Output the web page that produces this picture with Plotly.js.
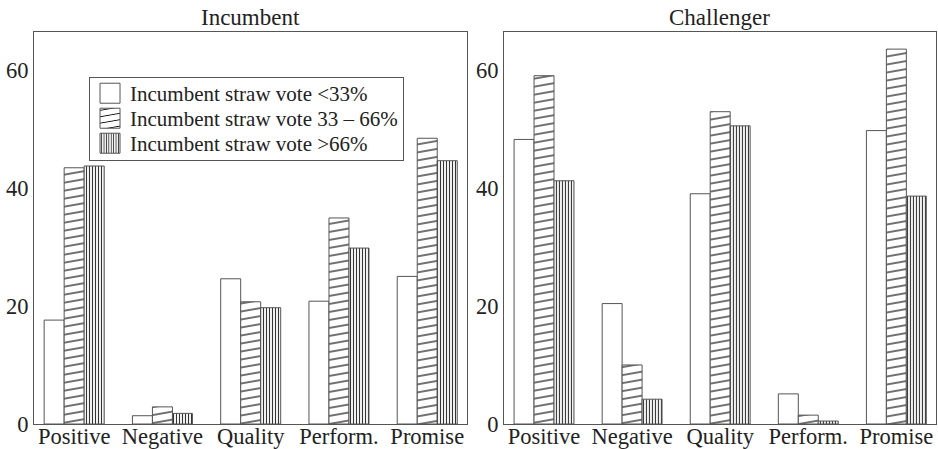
<!DOCTYPE html>
<html>
<head>
<meta charset="utf-8">
<script src="https://cdn.plot.ly/plotly-3.0.1.min.js"></script>
<style>html,body{margin:0;padding:0;background:#fff;}</style>
</head>
<body>
<div id="chart" style="width:938px;height:449px;"></div>
<script>
var categories = ['Positive', 'Negative', 'Quality', 'Perform.', 'Promise'];
var seriesNames = ['Incumbent straw vote &lt;33%', 'Incumbent straw vote 33 – 66%', 'Incumbent straw vote &gt;66%'];
var panelTitles = ['Incumbent', 'Challenger'];

var incumbentLow  = [17.6, 1.4, 24.6, 20.8, 25.0];
var incumbentMid  = [43.4, 2.9, 20.7, 34.9, 48.4];
var incumbentHigh = [43.7, 1.8, 19.7, 29.8, 44.6];

var challengerLow  = [48.2, 20.4, 39.0, 5.1, 49.7];
var challengerMid  = [59.0, 10.0, 52.9, 1.5, 63.5];
var challengerHigh = [41.2, 4.2, 50.5, 0.5, 38.6];

var yTicks = [0, 20, 40, 60];

var font = '"Liberation Serif", "Times New Roman", serif';
var lineCol = '#555';
var patterns = [
  {shape: '', bgcolor: '#fff'},
  {shape: '-', size: 8, solidity: 0.15, fgcolor: '#111', bgcolor: '#fff', fillmode: 'replace'},
  {shape: '|', size: 3, solidity: 0.38, fgcolor: '#333', bgcolor: '#fff', fillmode: 'replace'}
];

function mk(vals, i, xa, ya, show) {
  return {
    type: 'bar', x: categories, y: vals, name: seriesNames[i],
    xaxis: xa, yaxis: ya, showlegend: show, legendgroup: 'g' + i,
    marker: {color: '#fff', line: {color: lineCol, width: 1}, pattern: patterns[i]},
    hoverinfo: 'skip'
  };
}

var data = [
  mk(incumbentLow, 0, 'x', 'y', true),
  mk(incumbentMid, 1, 'x', 'y', true),
  mk(incumbentHigh, 2, 'x', 'y', true),
  mk(challengerLow, 0, 'x2', 'y2', false),
  mk(challengerMid, 1, 'x2', 'y2', false),
  mk(challengerHigh, 2, 'x2', 'y2', false)
];

function xax(dom, anchor) {
  return {domain: dom, anchor: anchor, range: [-0.455, 4.45], showline: true, mirror: true,
    linecolor: lineCol, linewidth: 1, ticks: '', showgrid: false, zeroline: false,
    ticklabelstandoff: -8,
    tickfont: {family: font, size: 22.5, color: '#222'}, fixedrange: true};
}
function yax(anchor) {
  return {domain: [0, 1], anchor: anchor, range: [0, 66.4], tickvals: yTicks, showline: true, mirror: true,
    linecolor: lineCol, linewidth: 1, ticks: '', showgrid: false, zeroline: false,
    tickfont: {family: font, size: 22.5, color: '#222'}, fixedrange: true};
}

var layout = {
  width: 938, height: 449,
  margin: {l: 34, r: 2, t: 32, b: 25},
  paper_bgcolor: '#fff', plot_bgcolor: '#fff',
  font: {family: font},
  barmode: 'group', bargap: 0.32, bargroupgap: 0,
  xaxis: xax([0, 0.480], 'y'),
  yaxis: yax('x'),
  xaxis2: xax([0.521, 1], 'y2'),
  yaxis2: yax('x2'),
  showlegend: true,
  legend: {x: 0.061, y: 0.885, xanchor: 'left', yanchor: 'top', bgcolor: '#fff',
    bordercolor: lineCol, borderwidth: 1, traceorder: 'normal',
    font: {family: font, size: 21, color: '#222'}},
  annotations: [
    {text: panelTitles[0], xref: 'x domain', yref: 'y domain', x: 0.5, y: 1, xanchor: 'center', yanchor: 'bottom',
     showarrow: false, font: {family: font, size: 23, color: '#222'}},
    {text: panelTitles[1], xref: 'x2 domain', yref: 'y2 domain', x: 0.5, y: 1, xanchor: 'center', yanchor: 'bottom',
     showarrow: false, font: {family: font, size: 23, color: '#222'}}
  ]
};

var done = false;
function tweak() {
  document.querySelectorAll('pattern').forEach(function (p) {
    var path = p.querySelector('path');
    if (!path) return;
    var nums = (path.getAttribute('d') || '').match(/-?[\d.]+/g);
    if (!nums || nums.length !== 4) return;
    if (parseFloat(nums[1]) === parseFloat(nums[3]) && parseFloat(nums[0]) !== parseFloat(nums[2])) {
      if (!p.getAttribute('data-skewed')) {
        var base = p.getAttribute('patternTransform') || '';
        p.setAttribute('patternTransform', (base + ' skewY(-10)').trim());
        p.setAttribute('data-skewed', '1');
      }
    }
  });
  document.querySelectorAll('.legend .legendpoints path').forEach(function (p) {
    p.setAttribute('d', 'M10,10H-10V-10H10Z');
  });
  if (!done) {
    var items = document.querySelectorAll('.legend .traces');
    var y0 = null;
    items.forEach(function (g, i) {
      var t = g.getAttribute('transform') || '';
      var m = t.match(/translate\(\s*([-\d.]+)[ ,]+([-\d.]+)/);
      if (!m) return;
      var x = parseFloat(m[1]), y = parseFloat(m[2]);
      if (y0 === null) y0 = y - 5;
      g.setAttribute('transform', 'translate(' + x + ',' + (y0 + i * 25) + ')');
    });
    var bg = document.querySelector('.legend rect.bg');
    if (bg) bg.setAttribute('height', 83);
    done = true;
  }
}

Plotly.newPlot('chart', data, layout, {displayModeBar: false, staticPlot: true}).then(function () {
  tweak();
  setTimeout(tweak, 50);
});
</script>
</body>
</html>
